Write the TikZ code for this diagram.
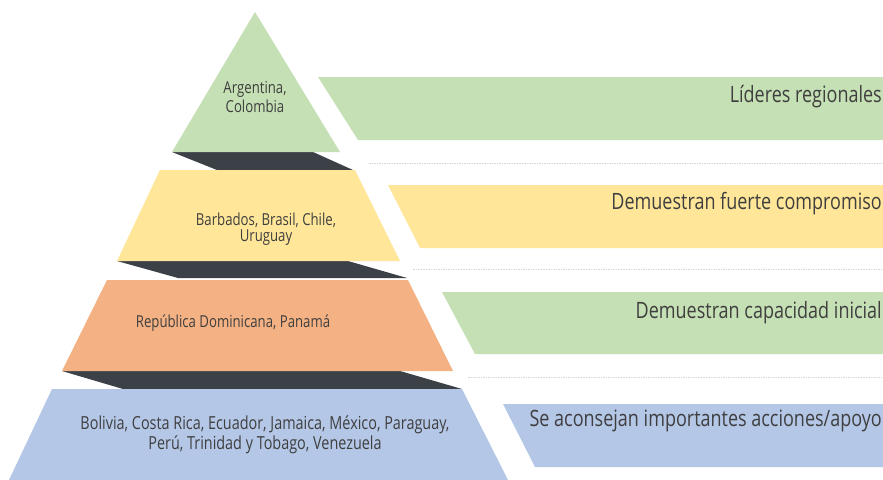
\documentclass[tikz,border=0pt]{standalone}
\usepackage{fontspec}
\setmainfont{Open Sans}[FakeStretch=0.80]
\begin{document}
\begin{tikzpicture}[x=1pt,y=-1pt,
  shade band/.style={fill=darkband,draw=none},
  sep line/.style={draw=sepgray,line width=0.6pt,dash pattern=on 1.5pt off 1pt},
  lefttext/.style={text=txtgray,align=center,inner sep=0pt},
  righttext/.style={text=txtgray,font=\fontsize{22.5}{24}\selectfont,anchor=east,inner sep=0pt}]
\definecolor{lvgreen}{HTML}{C5E0B4}
\definecolor{lvyellow}{HTML}{FFE699}
\definecolor{lvorange}{HTML}{F4B183}
\definecolor{lvblue}{HTML}{B4C7E7}
\definecolor{darkband}{HTML}{3B4147}
\definecolor{sepgray}{HTML}{D6D6D6}
\definecolor{txtgray}{HTML}{3F3F3F}
\useasboundingbox (0,0) rectangle (883,479);
\clip (0,0) rectangle (883,479);
\fill[white] (0,0) rectangle (883,479);

% dark bevel bands between the pyramid levels
\fill[shade band] (172,152) -- (313,152) -- (353,170) -- (217,170) -- cycle;
\fill[shade band] (117,261) -- (348,261) -- (407,278) -- (178,278) -- cycle;
\fill[shade band] (62,371) -- (400,371) -- (462,389) -- (123,389) -- cycle;

% pyramid levels
\fill[lvgreen]  (255,12) -- (340,152) -- (172,152) -- cycle;
\fill[lvyellow] (160,170) -- (355,170) -- (400,261) -- (117,261) -- cycle;
\fill[lvorange] (107,280) -- (408,280) -- (453,371) -- (62,371) -- cycle;
\fill[lvblue]   (52,389) -- (462,389) -- (508,480) -- (9,480) -- cycle;

% description bands
\fill[lvgreen]  (318,77) -- (890,77) -- (890,140) -- (358,140) -- cycle;
\fill[lvyellow] (388,185) -- (890,185) -- (890,248) -- (420,248) -- cycle;
\fill[lvgreen]  (442,292) -- (890,292) -- (890,354) -- (475,354) -- cycle;
\fill[lvblue]   (503,404) -- (890,404) -- (890,467) -- (535,467) -- cycle;

% thin separators
\coordinate (s1a) at (369,163); \coordinate (s1b) at (883,163);
\coordinate (s2a) at (413,269); \coordinate (s2b) at (883,269);
\coordinate (s3a) at (468,377); \coordinate (s3b) at (883,377);
\draw[sep line] (s1a) -- (s1b);
\draw[sep line] (s2a) -- (s2b);
\draw[sep line] (s3a) -- (s3b);

% level contents
\node[lefttext,font=\fontsize{16.5}{19}\selectfont] (l1) at (255,97.5) {Argentina,\\Colombia};
\node[lefttext,font=\fontsize{16.5}{16}\selectfont] (l2) at (266,229.5) {Barbados, Brasil, Chile,\\Uruguay};
\node[lefttext,font=\fontsize{16.5}{19}\selectfont] (l3) at (233,323) {República Dominicana, Panamá};
\node[lefttext,font=\fontsize{18}{20}\selectfont] (l4) at (265,435) {Bolivia, Costa Rica, Ecuador, Jamaica, México, Paraguay,\\Perú, Trinidad y Tobago, Venezuela};

% level descriptions
\node[righttext] (r1) at (882,97) {Líderes regionales};
\node[righttext] (r2) at (882,204) {Demuestran fuerte compromiso};
\node[righttext] (r3) at (882,313) {Demuestran capacidad inicial};
\node[righttext] (r4) at (882,421) {Se aconsejan importantes acciones/apoyo};
\end{tikzpicture}
\end{document}
